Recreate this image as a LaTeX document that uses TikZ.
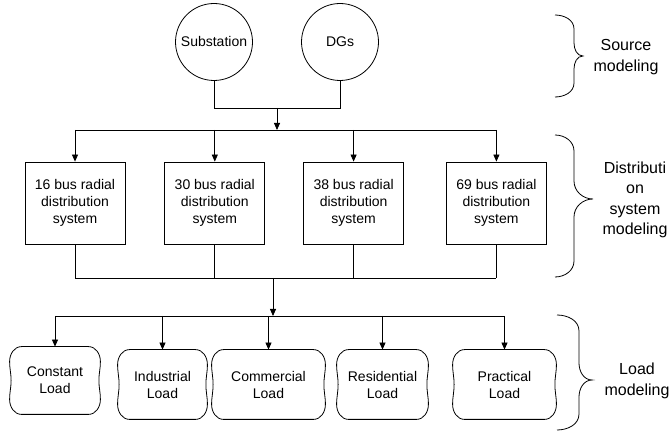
\documentclass[tikz,border=0pt]{standalone}
\usepackage{fontspec}
\setmainfont{Liberation Sans}
\usepackage{tikz}
\usetikzlibrary{positioning,arrows.meta}

\begin{document}
\begin{tikzpicture}[x=1pt, y=1pt, line width=0.8pt, >={Triangle[length=7pt,width=6pt]},
    font=\fontsize{14}{17}\selectfont,
    source/.style={draw, circle, minimum size=77pt, inner sep=0pt},
    sysbox/.style={draw, rectangle, minimum width=100pt, minimum height=82pt, align=center, inner sep=0pt},
    loadbox/.style={rectangle, minimum height=69pt, align=center, inner sep=0pt},
    sidetext/.style={align=center, font=\fontsize{16}{20.5}\selectfont}]
				\useasboundingbox (0,0) rectangle (671,433);
				% sources
				\node[source] (sub) at (214,391) {Substation};
				\node[source] (dgs) at (340,391) {DGs};
				% distribution systems
				\node[sysbox] (b16) at (75,230) {16 bus radial\\distribution\\system};
				\node[sysbox, right=39pt of b16] (b30) {30 bus radial\\distribution\\system};
				\node[sysbox, right=38pt of b30] (b38) {38 bus radial\\distribution\\system};
				\node[sysbox, right=42pt of b38] (b69) {69 bus radial\\distribution\\system};
				% loads
				\node[loadbox, minimum width=90pt, minimum height=67pt] (constant) at (55,52.5) {Constant\\Load};
				\node[loadbox, minimum width=89pt] (industrial) at (162.5,48.5) {Industrial\\Load};
				\node[loadbox, minimum width=113pt] (commercial) at (268.5,48.5) {Commercial\\Load};
				\node[loadbox, minimum width=91pt] (residential) at (382.5,48.5) {Residential\\Load};
				\node[loadbox, minimum width=103pt] (practical) at (504.5,48.5) {Practical\\Load};
				\foreach \l in {constant,industrial,commercial,residential,practical}
					\draw ([xshift=12pt]\l.north west) -- ([xshift=-12pt]\l.north east)
						to[out=0,in=90] ([yshift=-15pt]\l.north east)
						to[out=-90,in=90] ([xshift=-1.5pt]\l.east)
						to[out=-90,in=90] ([yshift=15pt]\l.south east)
						to[out=-90,in=0] ([xshift=-12pt]\l.south east)
						-- ([xshift=12pt]\l.south west)
						to[out=180,in=-90] ([yshift=15pt]\l.south west)
						to[out=90,in=-90] ([xshift=1.5pt]\l.west)
						to[out=90,in=-90] ([yshift=-15pt]\l.north west)
						to[out=90,in=180] cycle;
				% bus points
				\coordinate (srcjoin) at (277,325);
				\coordinate (topbus) at (277,303);
				\coordinate (lowbus) at (273,155);
				\coordinate (loadbus) at (273,117);
				
				\draw (sub) -- (sub |- srcjoin) -- (dgs |- srcjoin) -- (dgs);
				\draw[->] (srcjoin) -- (topbus);
				\draw (topbus -| b16) -- (topbus -| b69);
				\foreach \b in {b16,b30,b38,b69}
					\draw[->] (topbus -| \b) -- (\b);
				\foreach \b in {b16,b30,b38,b69}
					\draw (\b) -- (lowbus -| \b);
				\draw (lowbus -| b16) -- (lowbus -| b69);
				\draw[->] (lowbus) -- (loadbus);
				\draw (loadbus -| constant) -- (loadbus -| practical);
				\foreach \l in {constant,industrial,commercial,residential,practical}
					\draw[->] (loadbus -| \l) -- (\l.north);
				% braces
				\draw (555,418) to[out=0,in=90] (574,404) -- (574,390) to[out=-90,in=180] (583,377)
					to[out=180,in=90] (574,364) -- (574,350) to[out=-90,in=0] (555,336);
				\draw (555,298) to[out=0,in=90] (574,282) -- (574,252) to[out=-90,in=180] (593,234)
					to[out=180,in=90] (574,216) -- (574,172) to[out=-90,in=0] (555,156);
				\draw (557,118) to[out=0,in=90] (579,102) -- (579,70) to[out=-90,in=180] (592,53)
					to[out=180,in=90] (579,36) -- (579,19) to[out=-90,in=0] (557,3);
				\node[sidetext] (srclabel) at (626,376) {Source\\modeling};
				\node[sidetext] (distlabel) at (635,233) {Distributi\\on\\system\\modeling};
				\node[sidetext] (loadlabel) at (637,52) {Load\\modeling};
			\end{tikzpicture}
\end{document}
